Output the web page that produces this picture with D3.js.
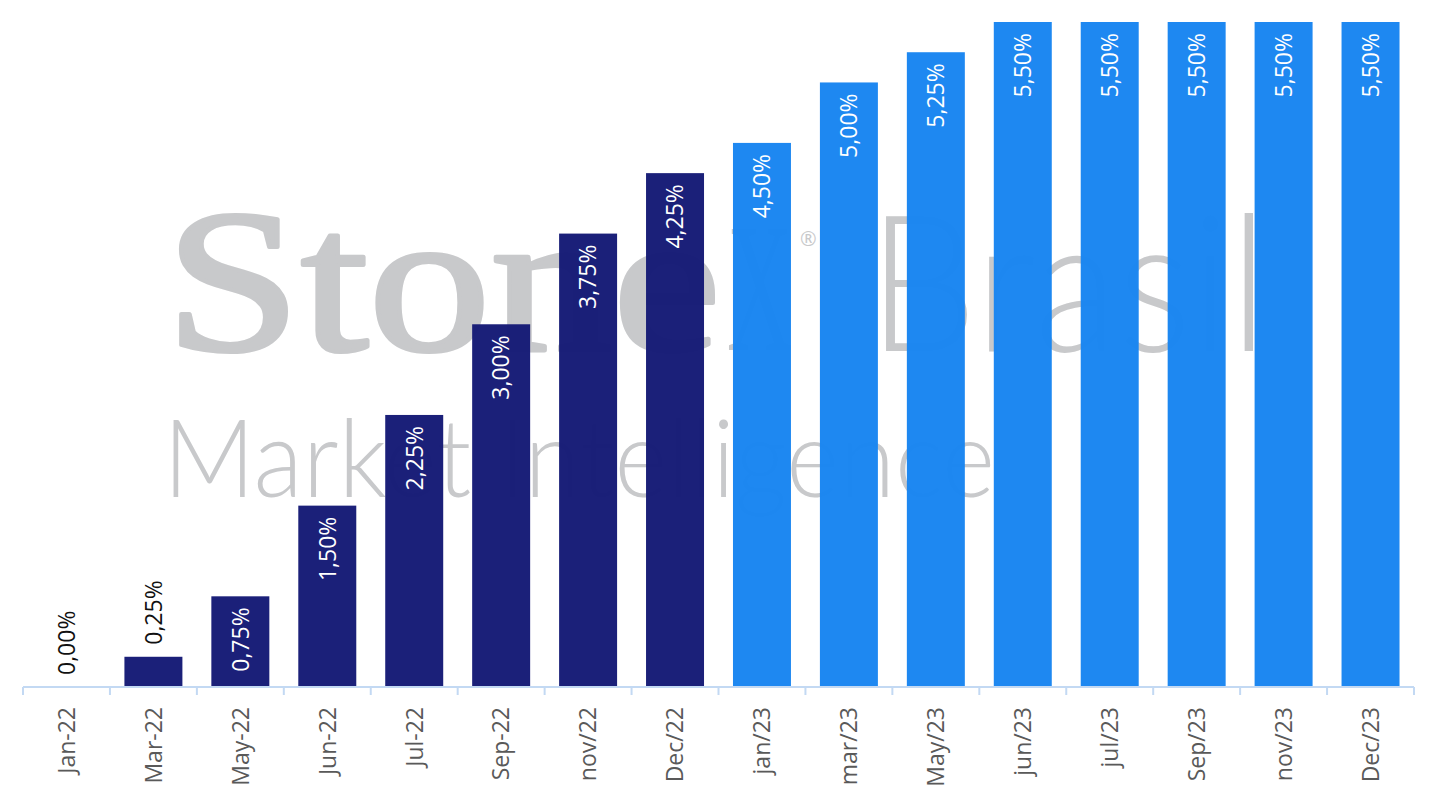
<!DOCTYPE html>
<html>
<head>
<meta charset="utf-8">
<script src="https://cdn.jsdelivr.net/npm/d3@7"></script>
<style>
  html, body { margin: 0; padding: 0; background: #fff; }
  svg { display: block; }
</style>
</head>
<body>
<div id="chart"></div>
<script>
// Policy rate path, 2022-2023 (percent). Dark = realised, light = projected.
const categories = ["Jan-22", "Mar-22", "May-22", "Jun-22", "Jul-22", "Sep-22", "nov/22", "Dec/22",
                    "jan/23", "mar/23", "May/23", "jun/23", "jul/23", "Sep/23", "nov/23", "Dec/23"];
const values     = [0.00, 0.25, 0.75, 1.50, 2.25, 3.00, 3.75, 4.25,
                    4.50, 5.00, 5.25, 5.50, 5.50, 5.50, 5.50, 5.50];
const projected  = [false, false, false, false, false, false, false, false,
                    true, true, true, true, true, true, true, true];

const COLORS = { past: "#161b76", proj: "#1985f1", axis: "#c3d9f3", tick: "#595959" };
const FONT = "'Open Sans', 'Noto Sans', sans-serif";

const W = 1437, H = 808;
const m = { top: 22, right: 23, bottom: 121, left: 23 };
const iw = W - m.left - m.right;
const ih = H - m.top - m.bottom;

const svg = d3.select("#chart").append("svg")
  .attr("width", W).attr("height", H);

const data = categories.map((c, i) => ({ cat: c, v: values[i], proj: projected[i] }));

const x = d3.scaleBand().domain(categories).range([0, iw]).paddingInner(0.333).paddingOuter(0.1665);
const y = d3.scaleLinear().domain([0, 5.5]).range([ih, 0]);

// watermark, sits behind the (very slightly see-through) bars
const wm = svg.append("g").attr("fill", "#c8c9cb");
wm.append("text").attr("x", 165).attr("y", 350)
  .attr("font-family", "'Liberation Serif', 'DejaVu Serif', serif")
  .attr("font-size", 204).attr("font-weight", 400)
  .attr("stroke", "#c8c9cb").attr("stroke-width", 4).attr("stroke-linejoin", "round")
  .attr("textLength", 556).attr("lengthAdjust", "spacingAndGlyphs")
  .text("Stone");
// narrow X: squeezed with a transform so its box stays clear of the ®
wm.append("text")
  .attr("transform", "translate(727,350) scale(0.49,1)")
  .attr("font-family", "'Liberation Serif', serif")
  .attr("font-size", 185).attr("font-weight", 400)
  .text("X");
wm.append("text").attr("x", 800).attr("y", 246)
  .attr("font-family", FONT).attr("font-size", 20)
  .text("®");
wm.append("text").attr("x", 868).attr("y", 351)
  .attr("font-family", "Lato, sans-serif").attr("font-size", 190).attr("font-weight", 300)
  .attr("textLength", 400).attr("lengthAdjust", "spacingAndGlyphs")
  .text("Brasil");
wm.append("text").attr("x", 163).attr("y", 497)
  .attr("font-family", "Lato, sans-serif").attr("font-size", 108).attr("font-weight", 300)
  .attr("textLength", 832).attr("lengthAdjust", "spacingAndGlyphs")
  .text("Market Intelligence");

const g = svg.append("g").attr("transform", `translate(${m.left},${m.top})`);

g.selectAll(".bar")
  .data(data)
  .join("rect")
    .attr("class", "bar")
    .attr("x", d => x(d.cat))
    .attr("y", d => y(d.v))
    .attr("width", x.bandwidth())
    .attr("height", d => ih - y(d.v))
    .attr("fill", d => d.proj ? COLORS.proj : COLORS.past)
    .attr("fill-opacity", 0.975);

// value labels, rotated; small bars get the label above in black
g.selectAll(".val")
  .data(data)
  .join("text")
    .attr("class", "val")
    .attr("transform", d => {
      const cx = x(d.cat) + x.bandwidth() / 2;
      const inside = d.v > 0.5;
      return `translate(${cx},${inside ? y(d.v) + 11 : y(d.v) - 12}) rotate(-90)`;
    })
    .attr("dy", "0.36em")
    .attr("text-anchor", d => d.v > 0.5 ? "end" : "start")
    .attr("fill", d => d.v > 0.5 ? "#ffffff" : "#111111")
    .attr("font-size", "23px")
    .attr("font-family", FONT)
    .text(d => d.v.toFixed(2).replace(".", ",") + "%");

// x axis: baseline with ticks on category boundaries
const axisG = g.append("g").attr("transform", `translate(0,${ih})`);
axisG.append("line")
  .attr("x1", 0).attr("x2", iw)
  .attr("stroke", COLORS.axis).attr("stroke-width", 2);
const step = x.step();
axisG.selectAll(".tk")
  .data(d3.range(categories.length + 1))
  .join("line")
    .attr("class", "tk")
    .attr("x1", i => i * step).attr("x2", i => i * step)
    .attr("y1", 0).attr("y2", 8)
    .attr("stroke", COLORS.axis).attr("stroke-width", 2);

axisG.selectAll(".lbl")
  .data(categories)
  .join("text")
    .attr("class", "lbl")
    .attr("transform", c => `translate(${x(c) + x.bandwidth() / 2},20) rotate(-90)`)
    .attr("dy", "0.36em")
    .attr("text-anchor", "end")
    .attr("fill", COLORS.tick)
    .attr("font-size", "23px")
    .attr("font-family", FONT)
    .text(c => c);
</script>
</body>
</html>
